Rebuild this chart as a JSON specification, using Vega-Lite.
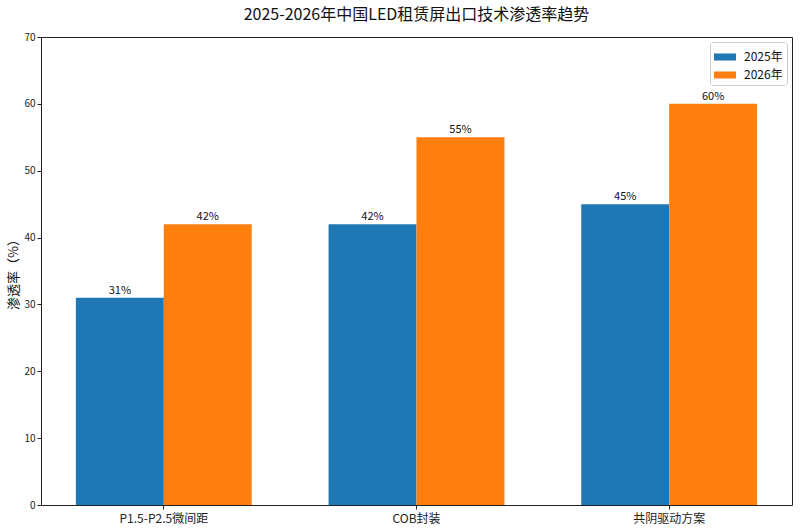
{
  "$schema": "https://vega.github.io/schema/vega-lite/v6.json",
  "width": 751,
  "height": 468,
  "autosize": {"type": "none"},
  "padding": {"left": 41, "top": 37, "right": 8, "bottom": 26},
  "config": {
    "font": "Noto Sans CJK SC",
    "view": {"stroke": "#222", "strokeWidth": 1},
    "axis": {"grid": false, "domain": false, "tickColor": "#222", "tickSize": 4, "labelColor": "#222", "labelFont": "Noto Sans CJK SC", "titleFont": "Noto Sans CJK SC"}
  },
  "title": {"text": "2025-2026年中国LED租赁屏出口技术渗透率趋势", "fontSize": 16, "fontWeight": "normal", "color": "#111", "offset": 9, "anchor": "middle"},
  "data": {"values": [
    {"cat": "P1.5-P2.5微间距", "year": "2025年", "v": 31},
    {"cat": "P1.5-P2.5微间距", "year": "2026年", "v": 42},
    {"cat": "COB封装", "year": "2025年", "v": 42},
    {"cat": "COB封装", "year": "2026年", "v": 55},
    {"cat": "共阴驱动方案", "year": "2025年", "v": 45},
    {"cat": "共阴驱动方案", "year": "2026年", "v": 60}
  ]},
  "transform": [{"calculate": "datum.v + '%'", "as": "label"}],
  "encoding": {
    "x": {"field": "cat", "type": "nominal", "sort": null,
      "scale": {"paddingInner": 0.304, "paddingOuter": 0.138},
      "axis": {"title": null, "labelAngle": 0, "labelFontSize": 12, "labelPadding": 4}},
    "xOffset": {"field": "year", "type": "nominal", "scale": {"paddingInner": 0, "paddingOuter": 0}},
    "y": {"field": "v", "type": "quantitative",
      "scale": {"domain": [0, 70], "nice": false},
      "axis": {"title": "渗透率（%）", "titleFontSize": 13, "titleFontWeight": "normal", "titleColor": "#111", "values": [0,10,20,30,40,50,60,70], "labelFontSize": 10, "titlePadding": 3}}
  },
  "layer": [
    {"mark": {"type": "bar"},
     "encoding": {"color": {"field": "year", "type": "nominal",
        "scale": {"range": ["#1f77b4", "#ff7f0e"]},
        "legend": {"title": null, "orient": "top-right", "offset": 5, "labelFontSize": 12, "labelColor": "#111",
          "symbolType": "M-1,-0.32H1V0.32H-1Z", "symbolSize": 484, "symbolStrokeWidth": 0, "symbolOpacity": 1,
          "strokeColor": "#ccc", "fillColor": "white", "padding": 4, "cornerRadius": 3, "rowPadding": 1, "labelOffset": 8}}}},
    {"mark": {"type": "text", "dy": -7, "fontSize": 11, "color": "#111"},
     "encoding": {"text": {"field": "label", "type": "nominal"}, "detail": {"field": "year"}}}
  ]
}
